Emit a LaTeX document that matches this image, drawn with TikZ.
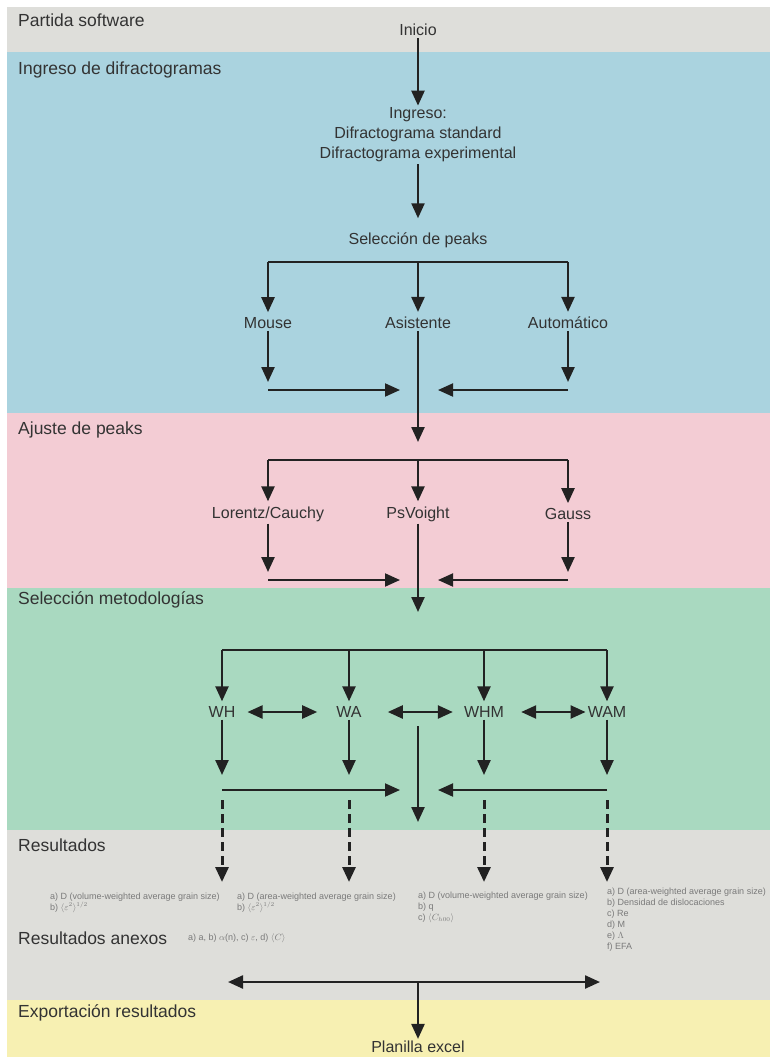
\documentclass[tikz,border=0pt]{standalone}
\usepackage{fontspec}
\setmainfont{Liberation Sans}
\usetikzlibrary{arrows.meta,positioning,calc}

\definecolor{bandgrey}{HTML}{DEDEDA}
\definecolor{bandblue}{HTML}{AAD3DF}
\definecolor{bandpink}{HTML}{F3CCD4}
\definecolor{bandgreen}{HTML}{A9D9C0}
\definecolor{bandyellow}{HTML}{F7F0B2}
\definecolor{txtdark}{HTML}{333333}
\definecolor{txtsmall}{HTML}{7A7A7A}
\definecolor{linedark}{HTML}{222222}

\tikzset{
  >={Triangle[length=15pt,width=13pt]},
  flowtxt/.style={text=txtdark, font=\fontsize{16}{20}\selectfont, inner sep=2pt},
  bandlabel/.style={anchor=west, text=txtdark, font=\fontsize{17.5}{20}\selectfont, inner sep=0pt},
  restxt/.style={anchor=north west, align=left, text=txtsmall, font=\fontsize{9}{11}\selectfont, inner sep=0pt},
  flowline/.style={line width=2.4pt, draw=linedark},
  flow/.style={flowline, ->},
  flowthin/.style={line width=2pt, draw=linedark, ->},
  flowdash/.style={line width=3pt, draw=linedark, dash pattern=on 9pt off 5pt, ->}
}

\begin{document}
\begin{tikzpicture}[x=1pt,y=-1pt]
  % background bands
  \fill[white] (0,0) rectangle (770,1062);
  \fill[bandgrey] (7,7) rectangle (770,52);
  \fill[bandblue] (7,52) rectangle (770,413);
  \fill[bandpink] (7,413) rectangle (770,588);
  \fill[bandgreen] (7,588) rectangle (770,830);
  \fill[bandgrey] (7,830) rectangle (770,1000);
  \fill[bandyellow] (7,1000) rectangle (770,1057);

  % band labels
  \node[bandlabel] (lbpartida) at (18,20) {Partida software};
  \node[bandlabel] (lbingreso) at (18,70) {Ingreso de difractogramas};
  \node[bandlabel] (lbajuste) at (18,430) {Ajuste de peaks};
  \node[bandlabel] (lbmetodo) at (18,600) {Selección metodologías};
  \node[bandlabel] (lbresult) at (18,845) {Resultados};
  \node[bandlabel] (lbanexos) at (18,938) {Resultados anexos};
  \node[bandlabel] (lbexport) at (18,1013) {Exportación resultados};

  % start and input
  \node[flowtxt] (inicio) at (418,30) {Inicio};
  \node[flowtxt, align=center] (ingreso) at (418,135) {Ingreso:\\Difractograma standard\\Difractograma experimental};
  \node[flowtxt] (selpeaks) at (418,240) {Selección de peaks};
  \draw[flow] (inicio) -- (ingreso);
  \draw[flow, shorten >=12pt] (ingreso) -- (selpeaks);

  % peak selection
  \coordinate (split1) at (418,262);
  \node[flowtxt] (mouse) at (268,323) {Mouse};
  \node[flowtxt] (asist) at (418,323) {Asistente};
  \node[flowtxt] (autom) at (568,323) {Automático};
  \draw[flowline] (split1 -| mouse) -- (split1 -| autom);
  \foreach \n in {mouse,asist,autom}
    \draw[flow, shorten >=3pt] (split1 -| \n) -- (\n);
  \coordinate (merge1) at (418,390);
  \coordinate (split2) at (418,460);
  \draw[flow] (mouse) -- ([yshift=8pt]mouse |- merge1);
  \draw[flow] (autom) -- ([yshift=8pt]autom |- merge1);
  \draw[flowthin] (mouse |- merge1) -- ([xshift=-18pt]merge1);
  \draw[flowthin] (autom |- merge1) -- ([xshift=20pt]merge1);
  \draw[flow] (asist) -- ([yshift=18pt]split2);

  % peak fitting
  \node[flowtxt] (lorentz) at (268,514) {Lorentz/Cauchy};
  \node[flowtxt] (psvoight) at (418,514) {PsVoight};
  \node[flowtxt] (gauss) at (568,514) {Gauss};
  \draw[flowline] (split2 -| lorentz) -- (split2 -| gauss);
  \foreach \n in {lorentz,psvoight,gauss}
    \draw[flow, shorten >=3pt] (split2 -| \n) -- (\n);
  \coordinate (merge2) at (418,580);
  \coordinate (split3) at (418,650);
  \draw[flow] (lorentz) -- ([yshift=8pt]lorentz |- merge2);
  \draw[flow] (gauss) -- ([yshift=8pt]gauss |- merge2);
  \draw[flowthin] (lorentz |- merge2) -- ([xshift=-18pt]merge2);
  \draw[flowthin] (gauss |- merge2) -- ([xshift=20pt]merge2);
  \draw[flow] (psvoight) -- ([yshift=38pt]split3);

  % methodologies
  \node[flowtxt] (wh) at (222,712) {WH};
  \node[flowtxt] (wa) at (349,712) {WA};
  \node[flowtxt] (whm) at (484,712) {WHM};
  \node[flowtxt] (wam) at (607,712) {WAM};
  \draw[flowline] (split3 -| wh) -- (split3 -| wam);
  \foreach \n in {wh,wa,whm,wam}
    \draw[flow, shorten >=3pt] (split3 -| \n) -- (\n);
  \draw[flow, <->, shorten <=10pt, shorten >=17pt] (wh) -- (wa);
  \draw[flow, <->, shorten <=24pt, shorten >=9pt] (wa) -- (whm);
  \draw[flow, <->, shorten <=15pt, shorten >=0pt] (whm) -- (wam);
  \coordinate (midtop) at (418,726);
  \coordinate (merge3) at (418,790);
  \coordinate (midend) at (418,822);
  \coordinate (resline) at (418,882);
  \draw[flow] (midtop) -- (midend);
  \foreach \n in {wh,wa,whm,wam}
    \draw[flow] (\n) -- ([yshift=15pt]\n |- merge3);
  \draw[flowthin] (wh |- merge3) -- ([xshift=-18pt]merge3);
  \draw[flowthin] (wam |- merge3) -- ([xshift=20pt]merge3);

  % results
  \node[restxt] (reswh) at (50,893) {a) D (volume-weighted average grain size)\\b) $\langle\varepsilon^{2}\rangle^{1/2}$};
  \node[restxt] (reswa) at (237,893) {a) D (area-weighted average grain size)\\b) $\langle\varepsilon^{2}\rangle^{1/2}$};
  \node[restxt] (reswhm) at (418,892) {a) D (volume-weighted average grain size)\\b) q\\c) $\langle C_{h00}\rangle$};
  \node[restxt] (reswam) at (607,888) {a) D (area-weighted average grain size)\\b) Densidad de dislocaciones\\c) Re\\d) M\\e) $\Lambda$\\f) EFA};
  \foreach \n in {wh,wa,whm,wam}
    \draw[flowdash] ([yshift=-10pt]\n |- merge3) -- (\n |- resline);
  \node[restxt, anchor=west] (anexos) at (188,938) {a) a, b) $\alpha$(n), c) $\varepsilon$, d) $\langle C\rangle$};

  % export
  \coordinate (export) at (418,982);
  \node[flowtxt] (planilla) at (418,1047) {Planilla excel};
  \draw[flow, <->] ([xshift=-190pt]export) -- ([xshift=182pt]export);
  \draw[flow] (export) -- (planilla);
\end{tikzpicture}
\end{document}
